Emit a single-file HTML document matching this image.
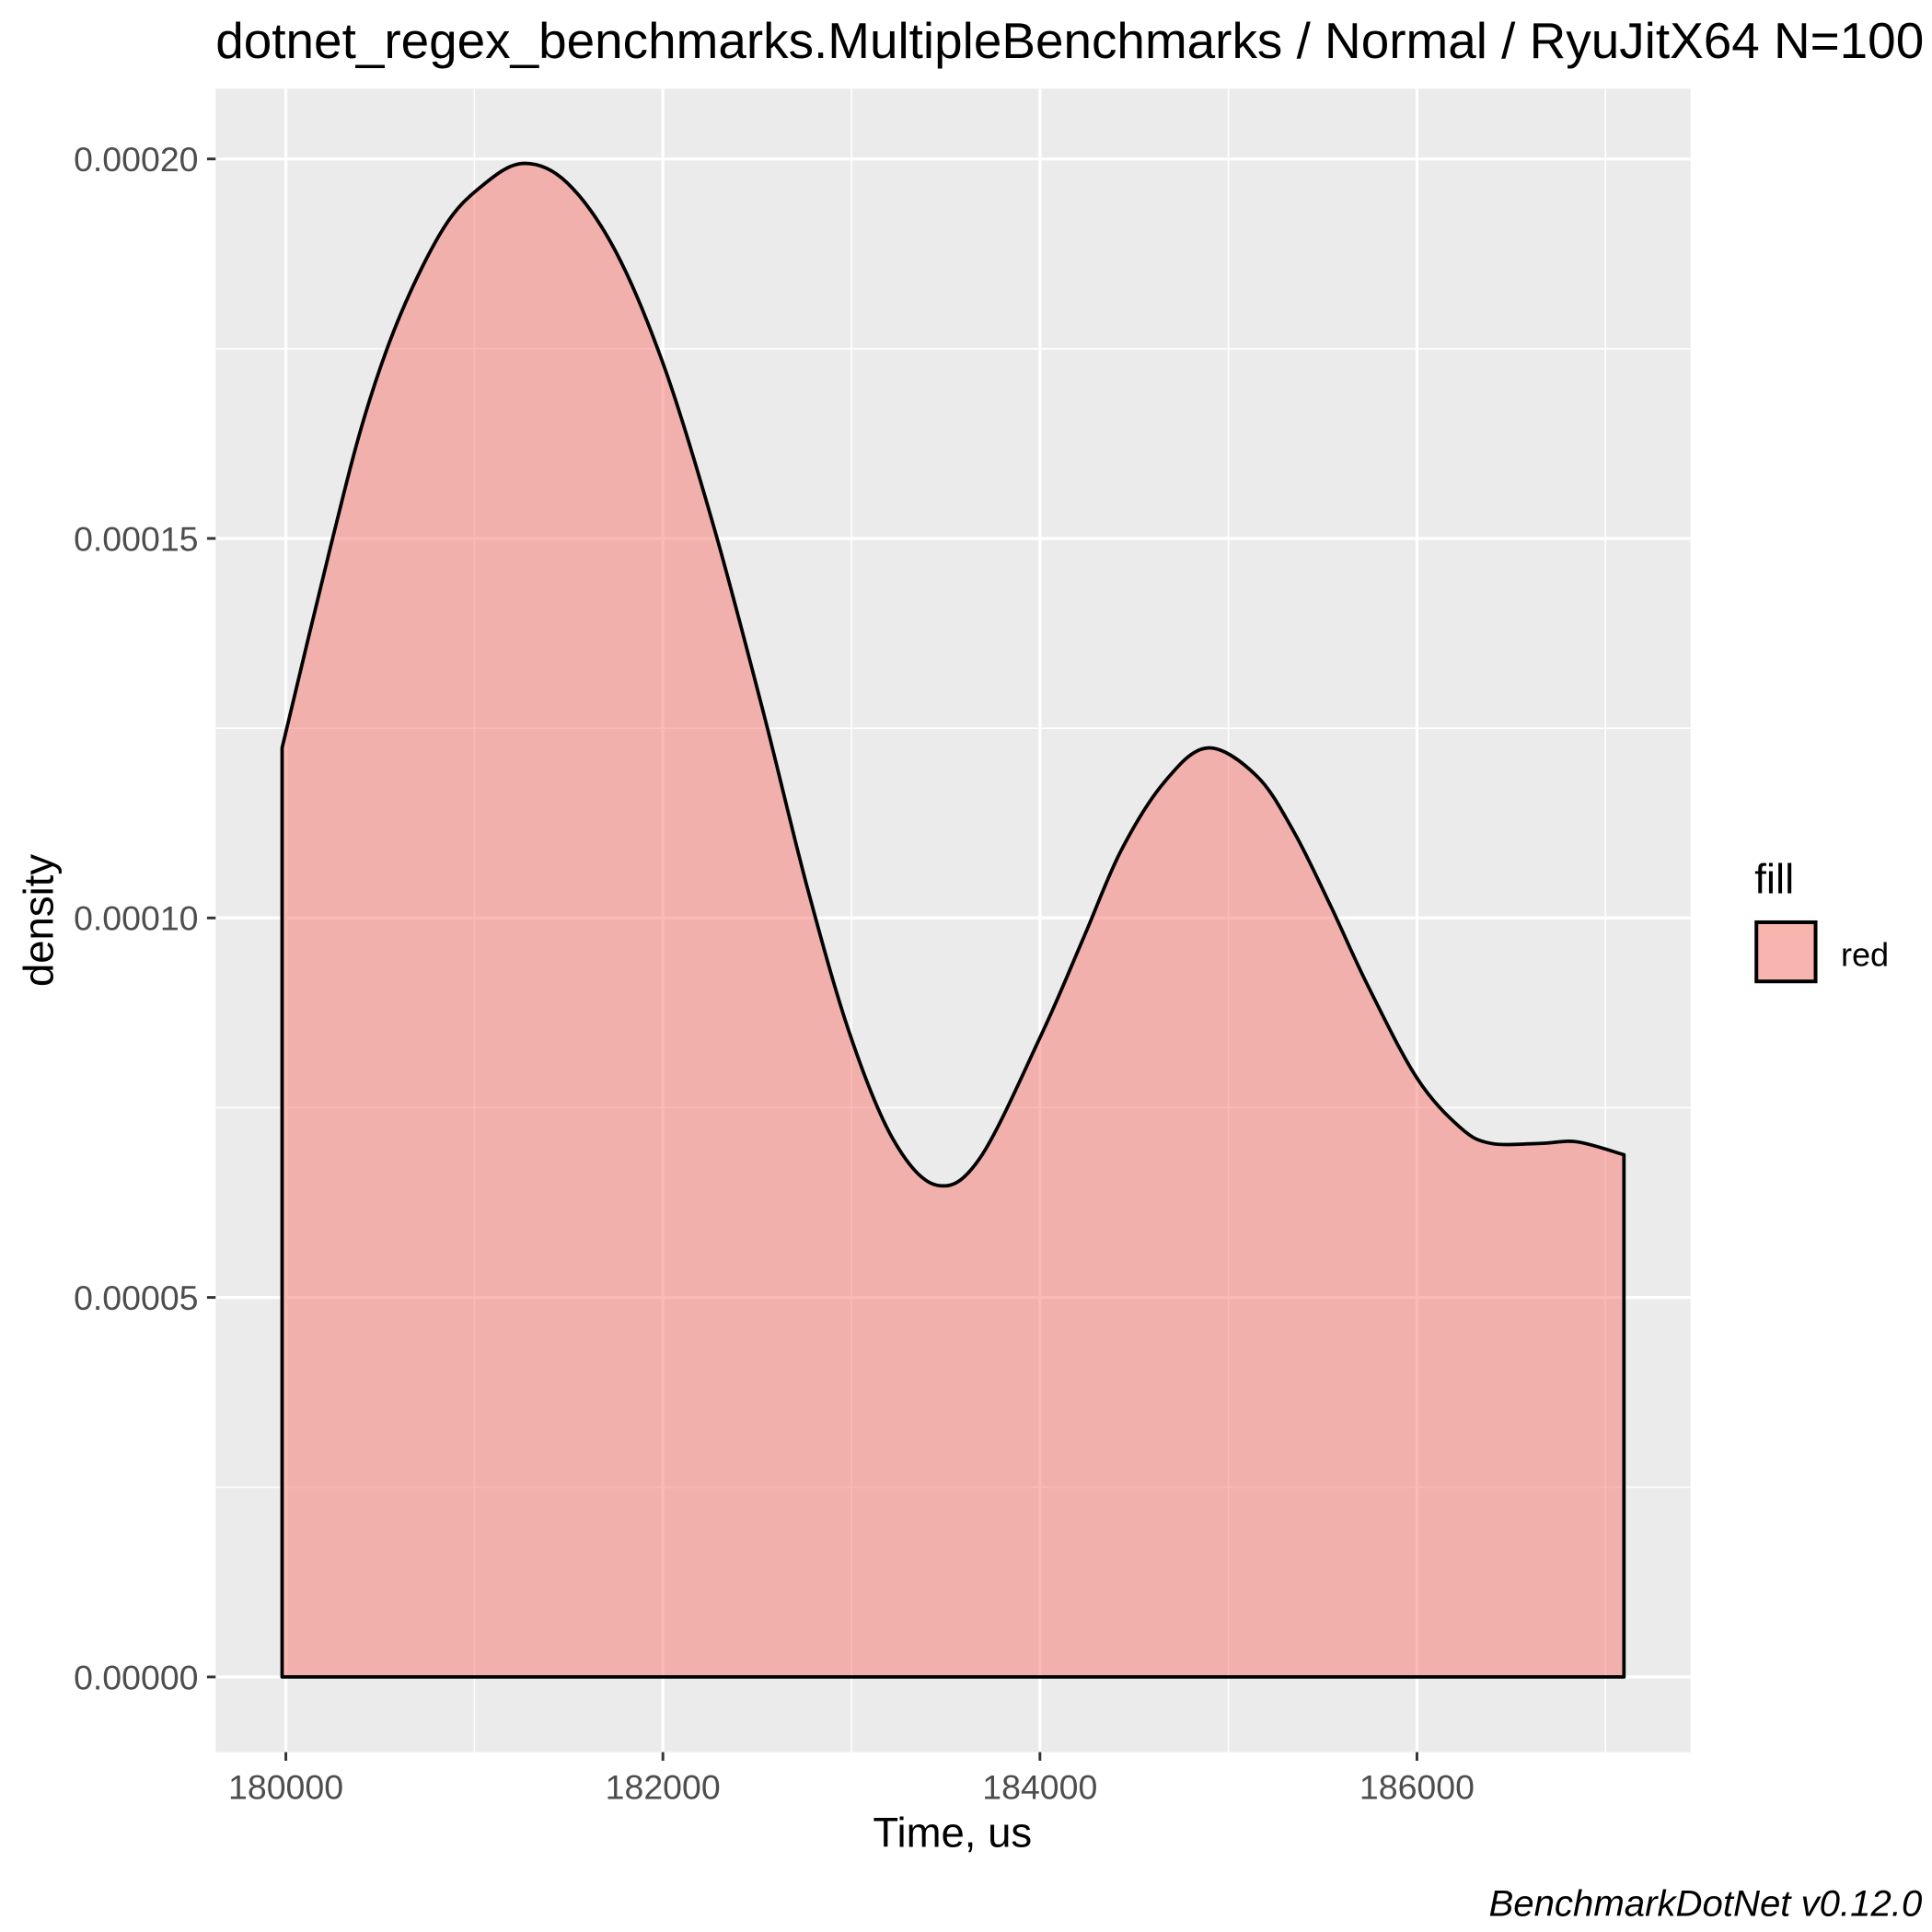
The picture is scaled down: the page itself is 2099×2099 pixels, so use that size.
<!DOCTYPE html>
<html><head><meta charset="utf-8"><style>
html,body{margin:0;padding:0;background:#fff}
svg{display:block}
text{font-family:"Liberation Sans",Arial,sans-serif}
</style></head><body>
<svg id="chart" width="2099" height="2099" viewBox="0 0 1568 1568" xmlns="http://www.w3.org/2000/svg">
<rect x="0" y="0" width="1568" height="1568" fill="#fff"/>
<rect x="175" y="72" width="1197" height="1350" fill="#ebebeb"/>
<g id="grid"></g>
<path id="area" fill="#f8766d" fill-opacity="0.5" stroke="#000" stroke-width="2.8" stroke-linejoin="round"/>
<g id="axes"></g>
<text x="175" y="47" font-size="41" fill="#000">dotnet_regex_benchmarks.MultipleBenchmarks / Normal / RyuJitX64 N=100</text>
<text x="773" y="1499" font-size="34" text-anchor="middle">Time, us</text>
<text transform="translate(43,747) rotate(-90)" font-size="34" text-anchor="middle">density</text>
<text x="1424" y="725" font-size="34">fill</text>
<rect x="1425.5" y="748.5" width="48" height="48" fill="#f8b4af" stroke="#000" stroke-width="3"/>
<text x="1494" y="784" font-size="27">red</text>
<text x="1560" y="1555" font-size="30" font-style="italic" text-anchor="end">BenchmarkDotNet v0.12.0</text>
</svg>
<script>
const xs=[179980,180235,180418,180608,180837,181033,181255,181490,181752,182013,182275,182536,182765,182993,183222,183451,183680,184007,184235,184431,184660,184889,185150,185346,185542,185739,186000,186229,186392,186654,186850,187098];
const ys=[1.224e-4,1.487e-4,1.661e-4,1.795e-4,1.909e-4,1.963e-4,1.994e-4,1.969e-4,1.877e-4,1.722e-4,1.511e-4,1.268e-4,1.041e-4,0.846e-4,0.708e-4,0.648e-4,0.683e-4,0.846e-4,0.976e-4,1.089e-4,1.179e-4,1.224e-4,1.187e-4,1.114e-4,1.016e-4,0.911e-4,0.789e-4,0.724e-4,0.703e-4,0.703e-4,0.705e-4,0.688e-4];
const xTicks=[180000,182000,184000,186000];
const xMinor=[181000,183000,185000,187000];
const yTicks=[0,0.00005,0.0001,0.00015,0.0002];
const yTickLabels=["0.00000","0.00005","0.00010","0.00015","0.00020"];
const yMinor=[0.000025,0.000075,0.000125,0.000175];
const X=v=>232+(v-180000)*0.153;
const Y=v=>1361-v*6160000;
const NS="http://www.w3.org/2000/svg";
const grid=document.getElementById('grid'),axes=document.getElementById('axes');
function line(p,x1,y1,x2,y2,c,w,n){const l=document.createElementNS(NS,'line');
l.setAttribute('x1',x1);l.setAttribute('y1',y1);l.setAttribute('x2',x2);l.setAttribute('y2',y2);
l.setAttribute('stroke',c);l.setAttribute('stroke-width',w);


p.appendChild(l);}
function txt(p,x,y,s,a,n){const t=document.createElementNS(NS,'text');
t.setAttribute('x',x);t.setAttribute('y',y);t.setAttribute('font-size','28');t.setAttribute('fill','#4d4d4d');t.setAttribute('text-anchor',a);t.textContent=s;


p.appendChild(t);}
yMinor.forEach(v=>line(grid,175,Y(v),1372,Y(v),'#fff',1.2,'y-minor-gridline'));
xMinor.forEach(v=>line(grid,X(v),72,X(v),1422,'#fff',1.2,'x-minor-gridline'));
yTicks.forEach((v,i)=>{line(grid,175,Y(v),1372,Y(v),'#fff',2.4,'y-major-gridline');
line(axes,168,Y(v),175,Y(v),'#333',2.2,'y-tick');
txt(axes,161,Y(v)+10,yTickLabels[i],'end','y-tick-label');});
xTicks.forEach(v=>{line(grid,X(v),72,X(v),1422,'#fff',2.4,'x-major-gridline');
line(axes,X(v),1422,X(v),1429,'#333',2.2,'x-tick');
txt(axes,X(v),1460,String(v),'middle','x-tick-label');});
const pts=xs.map((x,i)=>[X(x),Y(ys[i])]);
let d=`M${pts[0][0]},${Y(0)} L${pts[0][0]},${pts[0][1]}`;
for(let i=0;i<pts.length-1;i++){const p0=pts[Math.max(0,i-1)],p1=pts[i],p2=pts[i+1],p3=pts[Math.min(pts.length-1,i+2)];
const c1=[p1[0]+(p2[0]-p0[0])/6,p1[1]+(p2[1]-p0[1])/6],c2=[p2[0]-(p3[0]-p1[0])/6,p2[1]-(p3[1]-p1[1])/6];
d+=` C${c1[0]},${c1[1]} ${c2[0]},${c2[1]} ${p2[0]},${p2[1]}`;}
d+=` L${pts[pts.length-1][0]},${Y(0)} Z`;
document.getElementById('area').setAttribute('d',d);
</script>
</body></html>
